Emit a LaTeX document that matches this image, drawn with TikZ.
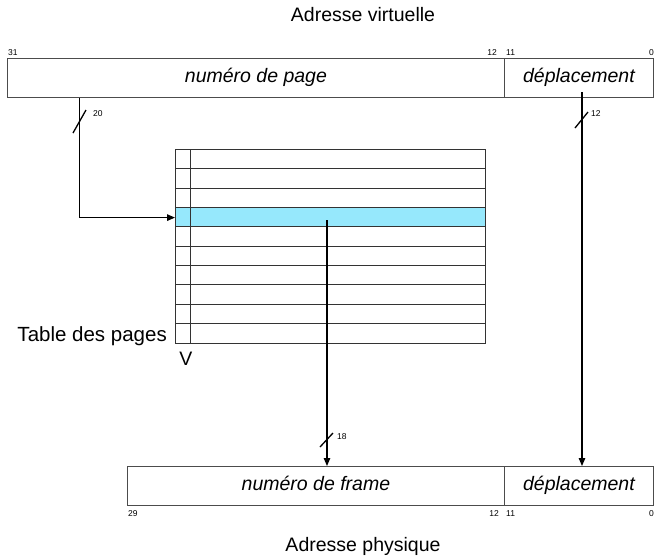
\documentclass[tikz,border=0pt]{standalone}
\usepackage{fontspec}
\setmainfont{Liberation Sans}
\usetikzlibrary{arrows.meta}
\definecolor{rowblue}{RGB}{150,232,252}
\begin{document}
\begin{tikzpicture}[x=1pt,y=-1pt,
  cell/.style={draw=black!70, line width=0.9pt, inner sep=0pt, anchor=north west,
    minimum height=39pt, text height=14pt, text depth=4pt,
    font=\fontsize{19.5}{22}\selectfont\itshape},
  bit/.style={font=\fontsize{8.5}{10}\selectfont, inner sep=0pt},
  lbl/.style={font=\fontsize{19.5}{22}\selectfont, inner sep=0pt},
  arr/.style={line width=1.3pt, -{Triangle[length=8pt,width=6.5pt]}},
  tick/.style={line width=1.3pt},
  gridline/.style={line width=0.8pt, draw=black!80}]
\useasboundingbox (0,0) rectangle (654,558);

% titles
\node[lbl, anchor=base] (vtitle) at (363,21) {Adresse virtuelle};
\node[lbl, anchor=base] (ptitle) at (363,551) {Adresse physique};

% virtual address
\node[cell, minimum width=497pt] (page) at (7,58) {numéro de page};
\node[cell, minimum width=149pt] (dep1) at (504,58) {déplacement};
\node[bit, anchor=base west] (b31) at (8,55) {31};
\node[bit, anchor=base east] (b12a) at (497,55) {12};
\node[bit, anchor=base west] (b11a) at (506,55) {11};
\node[bit, anchor=base east] (b0a) at (654,55) {0};

% physical address
\node[cell, minimum width=377pt] (frame) at (127,466) {numéro de frame};
\node[cell, minimum width=149pt] (dep2) at (504,466) {déplacement};
\node[bit, anchor=base west] (b29) at (128,516) {29};
\node[bit, anchor=base east] (b12b) at (499,516) {12};
\node[bit, anchor=base west] (b11b) at (506,516) {11};
\node[bit, anchor=base east] (b0b) at (654,516) {0};

% page table
\node[fill=rowblue, anchor=north west, inner sep=0pt, minimum width=310pt, minimum height=19.4pt] (entry) at (175,207.7) {};
\foreach \i in {1,...,9} {
  \draw[gridline] (175,149.3+\i*19.34) -- (485,149.3+\i*19.34);
}
\draw[gridline] (190,149.3) -- (190,342.7);
\node[draw=black!80, line width=0.8pt, anchor=north west, inner sep=0pt, minimum width=310pt, minimum height=193.4pt] (table) at (175,149.3) {};
\node[lbl, font=\fontsize{20.5}{23}\selectfont, anchor=base east] (tlabel) at (167,341.7) {Table des pages};
\node[lbl, anchor=base] (vlabel) at (186,365) {V};

% connectors
\draw[arr] ([xshift=72.5pt]page.south west) |- (entry.west);
\coordinate (r1) at (582,92);
\draw[arr] (r1) -- (r1 |- dep2.north);
\coordinate (m1) at (327,220);
\draw[arr] (m1) -- (m1 |- frame.north);

% bus width ticks
\draw[tick] (73,133) -- (86,110);
\node[bit, anchor=base west] (w20) at (93,116) {20};
\draw[tick] (575,128) -- (588,112);
\node[bit, anchor=base west] (w12) at (591,116) {12};
\draw[tick] (320,447) -- (333,433);
\node[bit, anchor=base west] (w18) at (337,439) {18};
\end{tikzpicture}
\end{document}
